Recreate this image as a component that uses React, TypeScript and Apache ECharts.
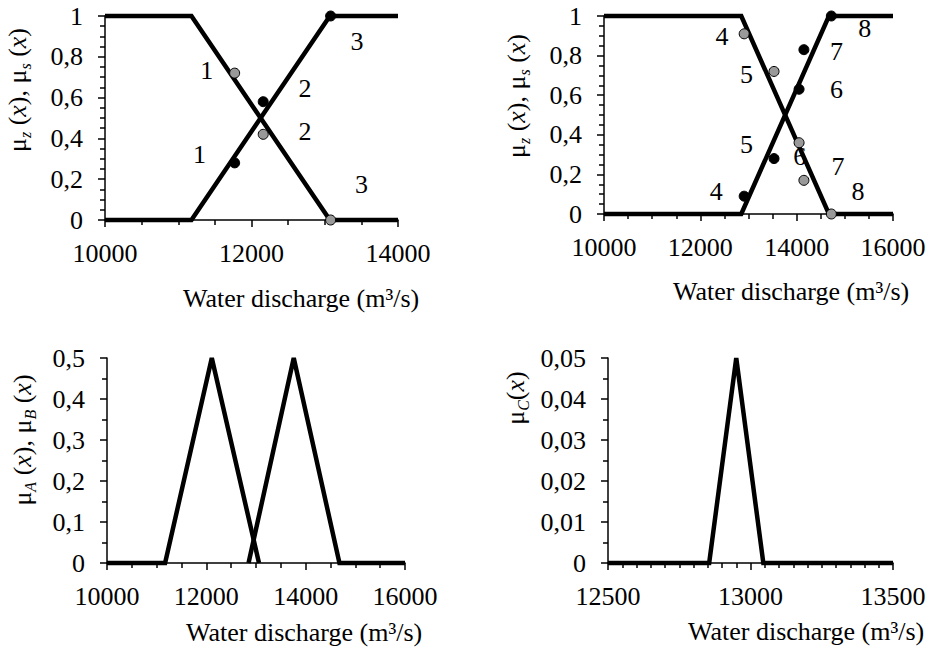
import React, { useEffect, useRef } from 'react';
import * as echarts from 'echarts';

const FONT = 'Liberation Serif';
const FS = 26;

// ---- Top-left panel (Z / S membership, points 1-3)
const tlMuZ = [[10000, 1], [11180, 1], [13070, 0], [14000, 0]];
const tlMuS = [[10000, 0], [11180, 0], [13070, 1], [14000, 1]];
const tlGray = [[11770, 0.72], [12160, 0.42], [13080, 0]];
const tlBlack = [[11770, 0.28], [12160, 0.58], [13080, 1]];
const tlLabels = [
  [11390, 0.735, '1'], [11290, 0.32, '1'],
  [12730, 0.646, '2'], [12730, 0.433, '2'],
  [13440, 0.874, '3'], [13500, 0.172, '3'],
];

// ---- Top-right panel (points 4-8)
const trMuZ = [[10000, 1], [12850, 1], [14670, 0], [16000, 0]];
const trMuS = [[10000, 0], [12850, 0], [14670, 1], [16000, 1]];
const trGray = [[12910, 0.91], [13530, 0.72], [14050, 0.36], [14150, 0.17], [14720, 0]];
const trBlack = [[12910, 0.09], [13530, 0.28], [14050, 0.63], [14150, 0.83], [14720, 1]];
const trLabels = [
  [12450, 0.896, '4'], [12330, 0.114, '4'],
  [12960, 0.707, '5'], [12960, 0.349, '5'],
  [14825, 0.63, '6'], [14063, 0.29, '6'],
  [14825, 0.82, '7'], [14858, 0.24, '7'],
  [15412, 0.938, '8'], [15273, 0.114, '8'],
];

// ---- Bottom-left panel (A and B)
const blMuA = [[10000, 0], [11170, 0], [12110, 0.5], [13060, 0]];
const blMuB = [[12850, 0], [13760, 0.5], [14680, 0], [16000, 0]];

// ---- Bottom-right panel (C)
const brMuC = [[12500, 0], [12855, 0], [12950, 0.05], [13045, 0], [13500, 0]];

// axis settings: [min, max, interval, minor splits]
const xRanges = [[10000, 14000, 2000, 4], [10000, 16000, 2000, 4], [10000, 16000, 2000, 4], [12500, 13500, 500, 10]];
const yRanges = [[0, 1, 0.2, 4], [0, 1, 0.2, 4], [0, 0.5, 0.1, 2], [0, 0.05, 0.01, 2]];

const XNAME = 'Water discharge (m³/s)';

const richBase = {
  m: { fontFamily: FONT, fontSize: FS, color: '#000', lineHeight: 32, verticalAlign: 'middle' },
  i: { fontFamily: FONT, fontSize: FS, fontStyle: 'italic', color: '#000', lineHeight: 32, verticalAlign: 'middle' },
  s: { fontFamily: FONT, fontSize: 16, fontStyle: 'italic', color: '#000', lineHeight: 16, verticalAlign: 'bottom' },
};

const yNames = [
  { text: '{m|μ}{s|z}{m| (}{i|x}{m|), μ}{s|s}{m| (}{i|x}{m|)}', x: 17, y: 90 },
  { text: '{m|μ}{s|z}{m| (}{i|x}{m|), μ}{s|s}{m| (}{i|x}{m|)}', x: 516, y: 96 },
  { text: '{m|μ}{s|A}{m| (}{i|x}{m|), μ}{s|B}{m| (}{i|x}{m|)}', x: 22, y: 440 },
  { text: '{m|μ}{s|C}{m|(}{i|x}{m|)}', x: 515, y: 398 },
];
const xNames = [
  { x: 183, y: 298 },
  { x: 673, y: 291 },
  { x: 186, y: 632 },
  { x: 688, y: 631 },
];

const grids = [
  { left: 105, top: 16, width: 293, height: 204 },
  { left: 604, top: 16, width: 289, height: 198 },
  { left: 107, top: 358, width: 298, height: 205 },
  { left: 608, top: 358, width: 285, height: 205 },
];

export default function App() {
  const ref = useRef<HTMLDivElement>(null);
  useEffect(() => {
    if (!ref.current) return;
    const chart = echarts.init(ref.current, undefined, { renderer: 'svg' });

    const axisCommon = {
      axisLine: { show: true, onZero: false, lineStyle: { color: '#000', width: 1.5 } },
      axisTick: { show: true, inside: false, length: 7, lineStyle: { color: '#000', width: 1.5 } },
      splitLine: { show: false },
    };

    const xAxis = xRanges.map((r, i) => ({
      ...axisCommon,
      type: 'value',
      gridIndex: i,
      min: r[0],
      max: r[1],
      interval: r[2],
      minorTick: { show: true, splitNumber: r[3], length: 5, lineStyle: { color: '#000', width: 1.5 } },
      axisLabel: {
        color: '#000', fontFamily: FONT, fontSize: FS, margin: 20,
        formatter: (v: number) => String(v),
      },
    }));
    const yAxis = yRanges.map((r, i) => ({
      ...axisCommon,
      type: 'value',
      gridIndex: i,
      min: r[0],
      max: r[1],
      interval: r[2],
      minorTick: { show: true, splitNumber: r[3], length: 5, lineStyle: { color: '#000', width: 1.5 } },
      axisLabel: {
        color: '#000', fontFamily: FONT, fontSize: FS, margin: 22,
        formatter: (v: number) => String(+v.toFixed(4)).replace('.', ','),
      },
    }));

    const lineS = (data: any[], idx: number) => ({
      type: 'line', xAxisIndex: idx, yAxisIndex: idx, data,
      symbol: 'none', clip: false, z: 3, silent: true,
      lineStyle: { color: '#000', width: 4.5, join: 'miter' },
    });
    const dotS = (data: any[], idx: number, color: string) => ({
      type: 'scatter', xAxisIndex: idx, yAxisIndex: idx, data,
      symbolSize: 10, z: 4, silent: true, clip: false,
      itemStyle: { color, borderColor: '#000', borderWidth: 1, opacity: 1 },
    });
    const labS = (data: any[], idx: number) => ({
      type: 'scatter', xAxisIndex: idx, yAxisIndex: idx, data,
      symbolSize: 0, z: 1, silent: true, clip: false,
      label: {
        show: true, position: 'inside', color: '#000', fontFamily: FONT, fontSize: FS,
        textBorderWidth: 0, opacity: 1,
        formatter: (p: any) => p.data[2],
      },
    });

    const graphic: any[] = [];
    yNames.forEach((n) => {
      graphic.push({
        type: 'text', x: n.x, y: n.y, rotation: Math.PI / 2, silent: true,
        style: { text: n.text, rich: richBase, align: 'center', verticalAlign: 'middle', fill: '#000' },
      });
    });
    xNames.forEach((n) => {
      graphic.push({
        type: 'text', x: n.x, y: n.y, silent: true,
        style: { text: XNAME, fontFamily: FONT, fontSize: FS, fill: '#000', align: 'left', verticalAlign: 'middle' },
      });
    });

    chart.setOption({
      animation: false,
      backgroundColor: '#fff',
      textStyle: { fontFamily: FONT },
      grid: grids,
      xAxis,
      yAxis,
      graphic,
      series: [
        labS(tlLabels, 0),
        lineS(tlMuZ, 0), lineS(tlMuS, 0),
        dotS(tlGray, 0, '#999'), dotS(tlBlack, 0, '#000'),
        labS(trLabels, 1),
        lineS(trMuZ, 1), lineS(trMuS, 1),
        dotS(trGray, 1, '#999'), dotS(trBlack, 1, '#000'),
        lineS(blMuA, 2), lineS(blMuB, 2),
        lineS(brMuC, 3),
      ],
    });
    return () => chart.dispose();
  }, []);
  return <div ref={ref} style={{ position: 'absolute', left: 0, top: 0, width: 937, height: 648, background: '#fff' }} />;
}
